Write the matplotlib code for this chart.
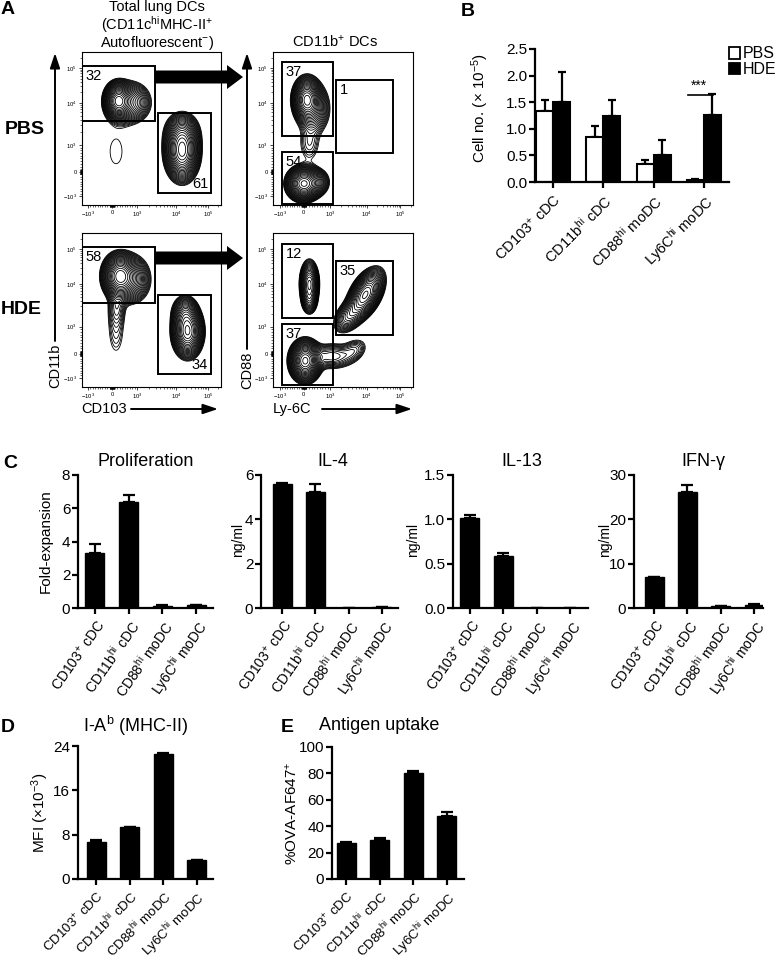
import numpy as np
import matplotlib
matplotlib.use('Agg')
import matplotlib.pyplot as plt
from matplotlib.patches import Rectangle, FancyArrow

plt.rcParams['font.family'] = ['Liberation Sans', 'DejaVu Sans']
plt.rcParams['mathtext.fontset'] = 'custom'
plt.rcParams['mathtext.rm'] = 'Liberation Sans'
plt.rcParams['mathtext.it'] = 'Liberation Sans:italic'
plt.rcParams['mathtext.bf'] = 'Liberation Sans:bold'
plt.rcParams['mathtext.default'] = 'regular'

W, H = 777, 960
fig = plt.figure(figsize=(W / 100, H / 100), dpi=100)

# ------------------------------------------------------------------ data
cell_types = ['CD103$^{+}$ cDC', 'CD11b$^{hi}$ cDC', 'CD88$^{hi}$ moDC', 'Ly6C$^{hi}$ moDC']

# Panel B: cell numbers (x 10^-5)
b_pbs = [1.33, 0.84, 0.34, 0.03]
b_pbs_err = [0.22, 0.22, 0.08, 0.02]
b_hde = [1.50, 1.25, 0.50, 1.26]
b_hde_err = [0.56, 0.30, 0.29, 0.39]

# Panel C
prolif = [3.3, 6.35, 0.15, 0.17]
prolif_err = [0.55, 0.45, 0.02, 0.02]
il4 = [5.6, 5.25, 0.0, 0.05]
il4_err = [0.02, 0.33, 0.0, 0.01]
il13 = [1.02, 0.59, 0.0, 0.0]
il13_err = [0.03, 0.025, 0.0, 0.0]
ifng = [6.9, 26.2, 0.4, 0.7]
ifng_err = [0.2, 1.5, 0.1, 0.15]

# Panel D / E
mhc = [6.6, 9.3, 22.6, 3.4]
mhc_err = [0.5, 0.1, 0.2, 0.1]
ova = [27.5, 29.2, 80.5, 48.0]
ova_err = [0.7, 1.5, 1.0, 2.5]

# Panel A: flow populations (x, y, sx, sy, amplitude, rho) on display scale 0-1
pop_pbs_total = [(0.26, 0.68, 0.045, 0.055, 0.9, 0.0), (0.35, 0.67, 0.07, 0.065, 0.3, 0.0),
                 (0.245, 0.35, 0.085, 0.16, 0.034, 0.0),
                 (0.72, 0.35, 0.055, 0.085, 0.95, 0.0), (0.72, 0.47, 0.06, 0.065, 0.25, 0.0)]
pop_hde_total = [(0.27, 0.72, 0.055, 0.065, 0.95, 0.0), (0.36, 0.70, 0.065, 0.075, 0.28, 0.0),
                 (0.245, 0.37, 0.045, 0.13, 0.05, 0.0), (0.25, 0.52, 0.035, 0.07, 0.08, 0.0),
                 (0.76, 0.36, 0.05, 0.075, 0.8, 0.0), (0.74, 0.48, 0.045, 0.055, 0.25, 0.0)]
pop_pbs_cd11b = [(0.24, 0.69, 0.045, 0.065, 0.75, 0.0), (0.29, 0.63, 0.06, 0.085, 0.2, 0.0),
                 (0.22, 0.14, 0.055, 0.05, 0.95, 0.0), (0.26, 0.40, 0.05, 0.08, 0.06, 0.0),
                 (0.32, 0.15, 0.045, 0.045, 0.15, 0.0)]
pop_hde_cd11b = [(0.26, 0.67, 0.032, 0.07, 0.45, 0.0), (0.26, 0.56, 0.028, 0.045, 0.15, 0.0),
                 (0.66, 0.60, 0.06, 0.075, 0.7, 0.5), (0.54, 0.46, 0.055, 0.055, 0.2, 0.4),
                 (0.23, 0.17, 0.05, 0.06, 0.95, 0.0), (0.42, 0.20, 0.085, 0.045, 0.15, 0.0),
                 (0.58, 0.24, 0.055, 0.045, 0.08, 0.3)]

# gates: (x0, x1, y0, y1, label, label corner)
gates_pbs_total = [(0.0, 0.525, 0.549, 0.908, '32', 'tl'), (0.547, 0.928, 0.078, 0.601, '61', 'br')]
gates_hde_total = [(0.0, 0.525, 0.545, 0.909, '58', 'tl'), (0.547, 0.928, 0.084, 0.597, '34', 'br')]
gates_pbs_cd11b = [(0.064, 0.429, 0.451, 0.935, '37', 'tl'), (0.064, 0.429, 0.007, 0.346, '54', 'tl'),
                   (0.45, 0.857, 0.34, 0.817, '1', 'tl')]
gates_hde_cd11b = [(0.064, 0.429, 0.448, 0.929, '12', 'tl'), (0.064, 0.429, 0.013, 0.409, '37', 'tl'),
                   (0.45, 0.857, 0.338, 0.818, '35', 'tl')]

flow_tick_vals = [-1e3, 0, 1e3, 1e4, 1e5]
flow_tick_labels = ['$-10^{3}$', '0', '$10^{3}$', '$10^{4}$', '$10^{5}$']
x_anchor_left = [0.043, 0.216, 0.396, 0.676, 0.906]
x_anchor_right = [0.05, 0.22, 0.41, 0.67, 0.91]
y_anchor = [0.059, 0.216, 0.392, 0.667, 0.895]
contour_levels = np.geomspace(0.03, 0.9, 24)


def add_ax(x0, y0, x1, y1):
    return fig.add_axes([x0 / W, 1 - y1 / H, (x1 - x0) / W, (y1 - y0) / H])


def flow_pos(v, anchors):
    pm, p0, p1, p4, p5 = anchors
    v = np.asarray(v, dtype=float)
    out = np.where(v <= 0, p0 + (v / 1e3) * (p0 - pm), p0 + (v / 1e3) * (p1 - p0))
    lg = np.log10(np.maximum(v, 1e3))
    hi = np.where(lg <= 4, p1 + (lg - 3) * (p4 - p1), p4 + (lg - 4) * (p5 - p4))
    return np.where(v > 1e3, hi, out)


minor_vals = (list(np.arange(-900, 0, 100)) + list(np.arange(-90, 0, 10)) + list(np.arange(10, 100, 10)) +
              list(np.arange(100, 1000, 100)) + list(np.arange(2e3, 1e4, 1e3)) +
              list(np.arange(2e4, 1e5, 1e4)) + [2e5])


def density(pops, X, Y):
    Z = np.zeros_like(X)
    for cx, cy, sx, sy, a, rho in pops:
        dx = (X - cx) / sx
        dy = (Y - cy) / sy
        Z += a * np.exp(-(dx ** 2 - 2 * rho * dx * dy + dy ** 2) / (2 * (1 - rho ** 2)))
    return Z


def flow_panel(box, pops, gates, xanch):
    ax = add_ax(*box)
    g = np.linspace(0, 1, 500)
    X, Y = np.meshgrid(g, g)
    Z = density(pops, X, Y)
    ax.contour(X, Y, Z, levels=contour_levels, colors='k', linewidths=0.6)
    for x0, x1, y0, y1, lab, corner in gates:
        ax.add_patch(Rectangle((x0, y0), x1 - x0, y1 - y0, fill=False, ec='k', lw=1.4, zorder=5))
        if corner == 'tl':
            ax.annotate(lab, (x0, y1), xytext=(2.5, -2), textcoords='offset points',
                        ha='left', va='top', fontsize=10.5)
        else:
            ax.annotate(lab, (x1, y0), xytext=(-2, 1.5), textcoords='offset points',
                        ha='right', va='bottom', fontsize=10.5)
    ax.set_xlim(0, 1)
    ax.set_ylim(0, 1)
    ax.set_xticks(flow_pos(flow_tick_vals, xanch))
    ax.set_xticklabels(flow_tick_labels)
    ax.set_yticks(flow_pos(flow_tick_vals, y_anchor))
    ax.set_yticklabels(flow_tick_labels)
    ax.set_xticks(flow_pos(minor_vals, xanch), minor=True)
    ax.set_yticks(flow_pos(minor_vals, y_anchor), minor=True)
    ax.tick_params(which='major', length=2.5, width=0.5, labelsize=4.2, pad=1.2, direction='out')
    ax.tick_params(which='minor', length=1.3, width=0.4, direction='out')
    for s in ax.spines.values():
        s.set_linewidth(0.8)
    return ax


flow_panel((82, 52, 221, 205), pop_pbs_total, gates_pbs_total, x_anchor_left)
flow_panel((82, 233, 221, 387), pop_hde_total, gates_hde_total, x_anchor_left)
flow_panel((273, 52, 413, 205), pop_pbs_cd11b, gates_pbs_cd11b, x_anchor_right)
flow_panel((273, 233, 413, 387), pop_hde_cd11b, gates_hde_cd11b, x_anchor_right)


def style_bar_axes(ax, ylim, yticks, yticklabels, xlim, rot, lab_fs=10):
    for s in ['top', 'right']:
        ax.spines[s].set_visible(False)
    for s in ['left', 'bottom']:
        ax.spines[s].set_linewidth(1.6)
    ax.set_ylim(*ylim)
    ax.set_xlim(*xlim)
    ax.set_yticks(yticks)
    ax.set_yticklabels(yticklabels)
    ax.set_xticks(np.arange(4))
    ax.set_xticklabels(cell_types, rotation=rot, ha='right', va='top', rotation_mode='anchor')
    ax.tick_params(axis='both', direction='out', length=4, width=1.6, pad=1.5)
    ax.tick_params(axis='y', labelsize=11)
    ax.tick_params(axis='x', labelsize=lab_fs, pad=3)


def bar_panel(box, vals, errs, ylim, yticks, yticklabels, xlim, rot, lab_fs=10):
    ax = add_ax(*box)
    x = np.arange(4)
    ax.bar(x, vals, width=0.57, color='k', edgecolor='k', lw=1)
    ax.errorbar(x, vals, yerr=[np.zeros(4), errs], fmt='none', ecolor='k', elinewidth=1.6,
                capsize=4.5, capthick=1.6)
    style_bar_axes(ax, ylim, yticks, yticklabels, xlim, rot, lab_fs)
    return ax


# ---------------- Panel B
axb = add_ax(535, 49, 729, 182)
xb = np.arange(4)
bw = 0.34
axb.bar(xb - bw / 2, b_pbs, width=bw, color='white', edgecolor='k', lw=1.5, zorder=2)
axb.bar(xb + bw / 2, b_hde, width=bw, color='k', edgecolor='k', lw=1.5, zorder=2)
axb.errorbar(xb - bw / 2, b_pbs, yerr=[np.zeros(4), b_pbs_err], fmt='none', ecolor='k',
             elinewidth=1.6, capsize=3, capthick=1.6, zorder=1)
axb.errorbar(xb + bw / 2, b_hde, yerr=[np.zeros(4), b_hde_err], fmt='none', ecolor='k',
             elinewidth=1.6, capsize=3, capthick=1.6, zorder=1)
style_bar_axes(axb, (0, 2.5), [0, 0.5, 1.0, 1.5, 2.0, 2.5],
               ['0.0', '0.5', '1.0', '1.5', '2.0', '2.5'], (-0.36, 3.5), 45, 10.5)
axb.plot([2.68, 3.18], [1.64, 1.64], color='k', lw=1.2, clip_on=False)
axb.text(2.90, 1.68, '***', ha='center', va='bottom', fontsize=10)

# ---------------- Panel C
bar_panel((78, 475, 213, 608), prolif, prolif_err, (0, 8), [0, 2, 4, 6, 8],
          ['0', '2', '4', '6', '8'], (-0.5, 3.5), 55)
bar_panel((261, 475, 398, 608), il4, il4_err, (0, 6), [0, 2, 4, 6],
          ['0', '2', '4', '6'], (-0.63, 3.48), 55)
bar_panel((453, 475, 588, 608), il13, il13_err, (0, 1.5), [0, 0.5, 1.0, 1.5],
          ['0.0', '0.5', '1.0', '1.5'], (-0.51, 3.54), 55)
bar_panel((634, 475, 763, 608), ifng, ifng_err, (0, 30), [0, 10, 20, 30],
          ['0', '10', '20', '30'], (-0.6, 3.27), 55)

# ---------------- Panel D / E
bar_panel((78, 746, 213, 879), mhc, mhc_err, (0, 24), [0, 8, 16, 24],
          ['0', '8', '16', '24'], (-0.54, 3.49), 45, 9.6)
bar_panel((332, 747, 464, 879), ova, ova_err, (0, 100), [0, 20, 40, 60, 80, 100],
          ['0', '20', '40', '60', '80', '100'], (-0.43, 3.51), 45, 9.6)

# ---------------- overlay for annotations
ov = fig.add_axes([0, 0, 1, 1])
ov.set_xlim(0, W)
ov.set_ylim(H, 0)
ov.axis('off')
ov.patch.set_alpha(0)
ov.set_zorder(10)

for lab, x, y in [('A', 8, 10), ('B', 468, 12), ('C', 10, 463), ('D', 8, 727), ('E', 287, 727)]:
    ov.text(x, y, lab, fontsize=14, fontweight='bold', ha='center', va='center')

ov.text(157, 7, 'Total lung DCs', fontsize=10.5, ha='center', va='center')
ov.text(157, 25, '(CD11c$^{hi}$MHC-II$^{+}$', fontsize=10.5, ha='center', va='center')
ov.text(157, 43, 'Autofluorescent$^{-}$)', fontsize=10.5, ha='center', va='center')
ov.text(335, 42, 'CD11b$^{+}$ DCs', fontsize=10.5, ha='center', va='center')
ov.text(25, 130, 'PBS', fontsize=14, fontweight='bold', ha='center', va='center')
ov.text(21, 310, 'HDE', fontsize=14, fontweight='bold', ha='center', va='center')

for yy in [77, 258]:
    ov.add_patch(FancyArrow(155, yy, 88, 0, width=13, head_width=24, head_length=16,
                            length_includes_head=True, color='k', lw=0))

arrow_kw = dict(arrowstyle='-|>,head_length=0.9,head_width=0.3', lw=1.4, color='k',
                shrinkA=0, shrinkB=0, mutation_scale=10)
ov.annotate('', xy=(55, 53), xytext=(55, 341), arrowprops=arrow_kw)
ov.annotate('', xy=(247, 53), xytext=(247, 349), arrowprops=arrow_kw)
ov.annotate('', xy=(218, 409), xytext=(131, 409), arrowprops=arrow_kw)
ov.annotate('', xy=(412, 409), xytext=(322, 409), arrowprops=arrow_kw)
ov.text(55, 366, 'CD11b', rotation=90, fontsize=10.5, ha='center', va='center')
ov.text(247, 370, 'CD88', rotation=90, fontsize=10.5, ha='center', va='center')
ov.text(104, 409, 'CD103', fontsize=10.5, ha='center', va='center')
ov.text(292, 409, 'Ly-6C', fontsize=10.5, ha='center', va='center')

# Panel B labels
ov.text(480, 108, 'Cell no. (× 10$^{-5}$)', rotation=90, fontsize=11, ha='center', va='center')
ov.add_patch(Rectangle((729, 47), 11, 12, fc='white', ec='k', lw=1.3))
ov.add_patch(Rectangle((729, 63), 11, 11, fc='k', ec='k', lw=1.3))
ov.text(743, 53, 'PBS', fontsize=11.5, ha='left', va='center')
ov.text(743, 69, 'HDE', fontsize=11.5, ha='left', va='center')

# Panel C titles / labels
ov.text(146, 462, 'Proliferation', fontsize=13, ha='center', va='center')
ov.text(333, 462, 'IL-4', fontsize=13, ha='center', va='center')
ov.text(522, 462, 'IL-13', fontsize=13, ha='center', va='center')
ov.text(703, 462, 'IFN-γ', fontsize=13, ha='center', va='center')
ov.text(46, 541, 'Fold-expansion', rotation=90, fontsize=11, ha='center', va='center')
ov.text(238, 540, 'ng/ml', rotation=90, fontsize=10, ha='center', va='center')
ov.text(413, 540, 'ng/ml', rotation=90, fontsize=10, ha='center', va='center')
ov.text(605, 540, 'ng/ml', rotation=90, fontsize=10, ha='center', va='center')

# Panel D / E titles / labels
ov.text(136, 726, 'I-A$^{b}$ (MHC-II)', fontsize=13, ha='center', va='center')
ov.text(379, 726, 'Antigen uptake', fontsize=13, ha='center', va='center')
ov.text(40, 813, 'MFI (×10$^{-3}$)', rotation=90, fontsize=11, ha='center', va='center')
ov.text(292, 813, '%OVA-AF647$^{+}$', rotation=90, fontsize=11, ha='center', va='center')

fig.savefig('out.png', dpi=100)
